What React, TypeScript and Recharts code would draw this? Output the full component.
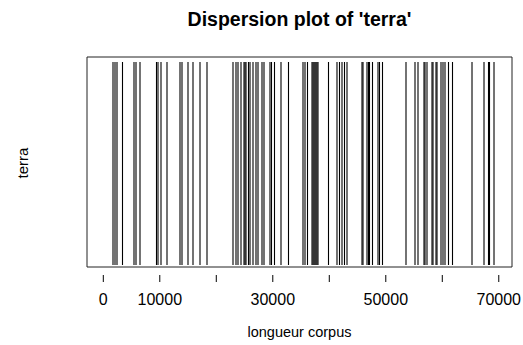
import { ComposedChart, XAxis, YAxis, ReferenceLine, ReferenceArea } from 'recharts'

// word positions of 'terra' in the corpus
const hits = [
  1717, 2071, 2425, 3398, 5434, 5788, 6496, 9416, 9682, 10213, 11275, 13576, 13930, 14992,
  15877, 17116, 18355, 22957, 23488, 23842, 24373, 24904, 25081, 25258, 25700, 25966, 26497,
  27028, 27382, 28090, 28444, 29506, 29771, 30302, 31453, 32780, 35347, 35701, 36143, 36940,
  37117, 37294, 37471, 37648, 37825, 38002, 39860, 41364, 41807, 42250, 42692, 43135,
  45790, 45967, 46675, 46940, 47117, 47648, 48622, 48887, 49418, 53578, 55171, 55702,
  56764, 56941, 57295, 58180, 58357, 58888, 59065, 59773, 60127, 60481, 61101, 61809, 65261,
  67385, 68182, 68359, 69155,
]
const xTicks = [0, 10000, 20000, 30000, 40000, 50000, 60000, 70000]
const shownTicks = [0, 10000, 30000, 50000, 70000]
const word = 'terra'

const font = '"Liberation Sans", Arial, sans-serif'
const data = hits.map((pos) => ({ pos, y: 1 }))

export default function App() {
  return (
    <div style={{ position: 'absolute', left: 0, top: 0, width: 523, height: 345, background: '#fff', fontFamily: font }}>
      <ComposedChart width={523} height={345} data={data} margin={{ top: 57, right: 11, bottom: 30, left: 87 }}>
        <XAxis
          dataKey="pos"
          type="number"
          domain={[-2885, 72340]}
          ticks={xTicks}
          allowDataOverflow
          axisLine={false}
          tickSize={7}
          tickMargin={12}
          height={40}
          tickLine={{ stroke: '#000' }}
          tick={{ fill: '#000', fontSize: 16, fontFamily: font }}
          tickFormatter={(v: number) => (shownTicks.includes(v) ? String(v) : '')}
        />
        <YAxis type="number" domain={[-0.0493, 1.0246]} hide allowDataOverflow />
        <ReferenceArea x1={-2885} x2={72340} y1={-0.0099} y2={1.0246} fill="none" stroke="#222" strokeWidth={1} ifOverflow="visible" />
        {hits.map((h, i) => (
          <ReferenceLine
            key={i}
            segment={[{ x: h, y: 0 }, { x: h, y: 1 }]}
            stroke="#000"
            strokeWidth={1.1}
            ifOverflow="visible"
          />
        ))}
      </ComposedChart>
      <div style={{ position: 'absolute', left: 0, width: 599, top: 8, textAlign: 'center', fontWeight: 'bold', fontSize: 19.5, color: '#000' }}>
        Dispersion plot of '{word}'
      </div>
      <div style={{ position: 'absolute', left: 0, width: 599, top: 324, textAlign: 'center', fontSize: 14.5, color: '#000' }}>
        longueur corpus
      </div>
      <div
        style={{
          position: 'absolute',
          left: 22,
          top: 163,
          transform: 'translate(-50%, -50%) rotate(-90deg)',
          fontSize: 15,
          color: '#000',
        }}
      >
        {word}
      </div>
    </div>
  )
}
